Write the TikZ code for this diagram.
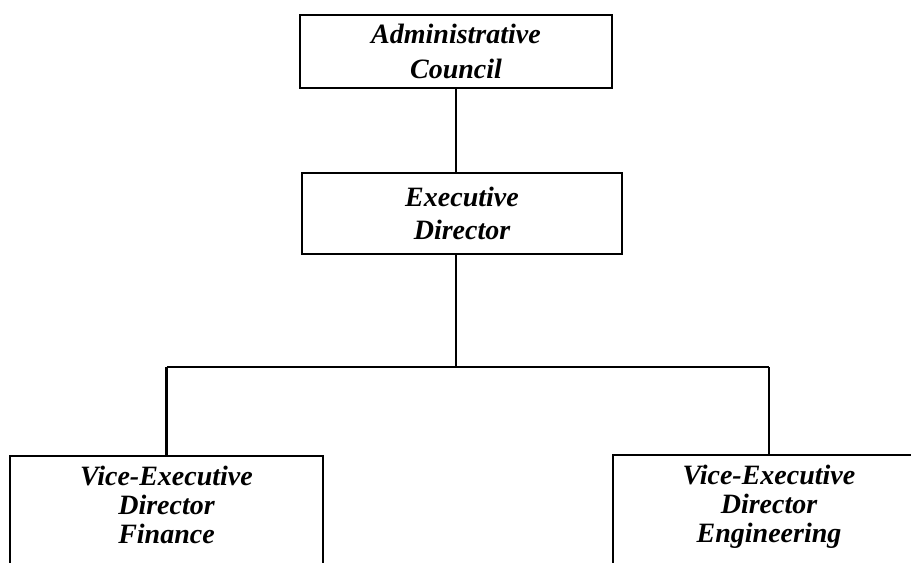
\documentclass[tikz,border=0pt]{standalone}
\usepackage{fontspec}
\setmainfont{Liberation Serif}
\begin{document}
\begin{tikzpicture}[x=0.75pt,y=-0.75pt,
  orgbox/.style={draw, rectangle, line width=1.7pt, inner sep=0pt,
    align=center, font=\fontsize{21}{25}\selectfont\bfseries\itshape},
  orgtext/.style={align=center, inner sep=0pt,
    font=\fontsize{21}{22}\selectfont\bfseries\itshape},
  link/.style={line width=1.7pt}]
\useasboundingbox (0,0) rectangle (911,562);
\clip (0,0) rectangle (911,562);

% top of the chart
\node[orgbox, minimum width=234pt, minimum height=54.75pt,
  font=\fontsize{21}{26}\selectfont\bfseries\itshape] (admin) at (456,51.5)
  {Administrative\\Council};
\node[orgbox, minimum width=240pt, minimum height=60.75pt] (exec) at (462,213.5)
  {Executive\\Director};

% vice-executive boxes (run past the lower edge)
\node[orgbox, minimum width=234.75pt, minimum height=108pt] (vfin) at (166.5,528) {};
\node[orgbox, minimum width=234pt, minimum height=108.75pt] (veng) at (769,527.5) {};
\node[orgtext, anchor=north] (vfintext) at ([yshift=-8pt]vfin.north)
  {Vice-Executive\\Director\\Finance};
\node[orgtext, anchor=north] (vengtext) at ([yshift=-8pt]veng.north)
  {Vice-Executive\\Director\\Engineering};

% connectors
\coordinate (split) at (456,367);
\draw[link] (admin.south) -- (admin.south |- exec.north);
\draw[link] (split |- exec.south) -- (split);
\draw[link] (vfin.north |- split) -- (veng.north |- split);
\draw[link] (vfin.north |- split) -- (vfin.north);
\draw[link] (veng.north |- split) -- (veng.north);
\end{tikzpicture}
\end{document}
